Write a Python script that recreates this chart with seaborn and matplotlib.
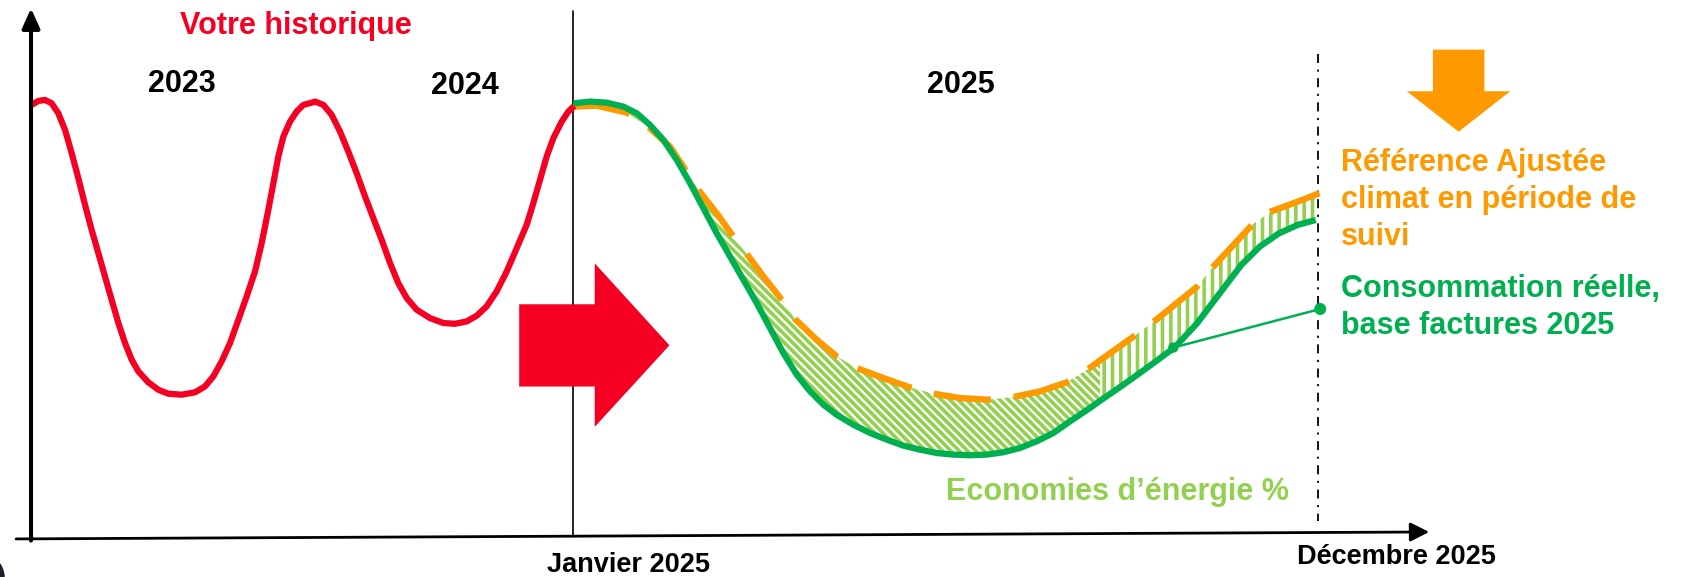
import matplotlib
matplotlib.use("Agg")
import matplotlib.pyplot as plt
from matplotlib.patches import Polygon, Ellipse
import seaborn as sns

# ---------------- data (schematic units; y grows downward) -------------
hist_x = [29.5, 35.7, 41.9, 48.1, 54.3, 60.6, 66.8, 73.0, 79.2, 85.4, 91.6, 97.8, 104.0, 110.3,
          116.5, 122.7, 128.9, 138.2, 147.5, 156.8, 169.3, 181.7, 191.0, 198.8, 206.5, 214.3,
          222.1, 229.8, 237.6, 243.8, 250.0, 254.7, 259.3, 264.0, 270.2, 276.4, 282.6, 290.4,
          293.5, 301.3, 309.0, 316.8, 324.5, 332.3, 340.1, 347.8, 355.6, 363.4, 371.1, 378.9,
          388.2, 400.6, 413.1, 423.9, 434.8, 444.1, 453.4, 462.7, 472.1, 481.4, 490.7, 496.9,
          503.1, 509.3, 515.5, 523.3, 529.5, 535.0]
hist_y = [97.8, 94.1, 93.2, 96.3, 105.6, 121.1, 142.9, 166.2, 191.0, 214.3, 236.0, 257.8, 279.5,
          301.2, 319.9, 335.4, 346.3, 356.5, 363.4, 367.1, 368.0, 365.8, 360.3, 350.9, 337.0,
          319.9, 298.1, 276.4, 253.1, 226.7, 195.7, 170.8, 146.0, 127.3, 113.4, 104.0, 97.8,
          95.7, 94.7, 97.8, 107.1, 122.7, 141.3, 161.5, 183.2, 203.4, 223.6, 245.3, 264.0, 277.9,
          288.8, 296.6, 301.2, 301.9, 299.7, 294.4, 285.7, 271.7, 253.1, 231.4, 209.6, 189.4,
          167.7, 146.0, 128.9, 113.4, 104.0, 98.8]

real_x = [534.2, 549.7, 565.2, 580.8, 593.2, 605.6, 618.0, 630.5, 642.9, 655.3, 667.7, 680.1,
          692.6, 705.0, 717.4, 729.8, 742.3, 754.7, 767.1, 779.5, 795.0, 810.6, 826.1, 841.6,
          857.2, 872.7, 888.2, 903.7, 919.3, 934.8, 950.3, 965.9, 981.4, 996.9, 1015.5, 1024.9,
          1045.7, 1066.5, 1094.2, 1115.0, 1135.7, 1156.5, 1173.9, 1191.2, 1208.5, 1225.8]
real_y = [96.3, 94.7, 95.7, 99.4, 105.6, 116.5, 130.4, 149.1, 170.8, 194.1, 217.4, 239.1,
          260.9, 282.6, 305.9, 329.2, 349.4, 364.9, 377.3, 386.7, 396.0, 403.7, 409.9, 415.5,
          419.3, 422.4, 423.9, 424.5, 423.9, 421.7, 417.7, 411.5, 403.7, 392.9, 380.4, 373.7,
          359.4, 344.5, 324.1, 301.8, 274.4, 247.0, 229.8, 217.8, 209.9, 205.1]

ref_x = [534.2, 555.9, 583.9, 605.6, 624.2, 638.2, 650.6, 667.7, 683.2, 695.7, 711.2, 728.3,
         740.7, 760.9, 779.5, 798.2, 823.0, 847.8, 869.6, 894.4, 920.8, 944.1, 969.0, 993.8,
         1014.0, 1024.9, 1056.1, 1076.9, 1115.0, 1128.8, 1166.9, 1184.2, 1212.0, 1229.3]
ref_y = [99.4, 98.5, 105.0, 119.6, 136.7, 157.8, 177.0, 198.8, 220.5, 236.7, 257.8, 279.5,
         297.5, 316.8, 332.3, 343.2, 352.5, 361.2, 367.1, 371.1, 372.7, 370.2, 364.9, 356.5,
         344.0, 336.0, 313.8, 298.4, 267.5, 250.4, 209.2, 197.2, 186.9, 180.1]

pointer_x = [1093.1, 1230.0]
pointer_y = [324.1, 288.1]

hatch_split = 1025

year_labels = ["2023", "2024", "2025"]
year_x = [169.3, 432.9, 895.2]
year_y = [86.0, 88.0, 86.3]

RED = "#F50022"
ORANGE = "#FF9900"
GREEN = "#00B050"
LIGHT_GREEN = "#92D050"

# ---------------- style ----------------
sns.set_theme(style="white")
plt.rcParams["font.family"] = ["Liberation Sans", "DejaVu Sans"]
plt.rcParams["font.weight"] = "bold"
plt.rcParams["hatch.linewidth"] = 2.6

fig = plt.figure(figsize=(16.83, 5.77), dpi=100)
ax = fig.add_axes([0, 0, 1, 1])
ax.set_xlim(0, 1568)
ax.set_ylim(538, 0)
ax.axis("off")

# ---------------- savings hatch ----------------
def band(cond):
    ox = [x for x in ref_x if cond(x)]
    oy = [y for x, y in zip(ref_x, ref_y) if cond(x)]
    gx = [x for x in real_x if cond(x)]
    gy = [y for x, y in zip(real_x, real_y) if cond(x)]
    return ox + gx[::-1], oy + gy[::-1]

bx, by = band(lambda x: x <= hatch_split)
ax.fill(bx, by, facecolor="none", edgecolor=LIGHT_GREEN, hatch="\\\\\\\\", linewidth=0, zorder=1)
bx, by = band(lambda x: x >= hatch_split - 0.5)
ax.fill(bx, by, facecolor="none", edgecolor=LIGHT_GREEN, hatch="||", linewidth=0, zorder=1)

# ---------------- curves ----------------
sns.lineplot(x=ref_x, y=ref_y, sort=False, estimator=None, ax=ax, color=ORANGE, linewidth=4.6,
             linestyle=(0, (9.0, 3.6)), dash_capstyle="butt", zorder=2)
sns.lineplot(x=hist_x, y=hist_y, sort=False, estimator=None, ax=ax, color=RED, linewidth=4.5,
             solid_joinstyle="round", solid_capstyle="butt", zorder=3)
sns.lineplot(x=real_x, y=real_y, sort=False, estimator=None, ax=ax, color=GREEN, linewidth=4.5,
             solid_joinstyle="round", solid_capstyle="butt", zorder=4)

# pointer to the green curve
sns.lineplot(x=pointer_x, y=pointer_y, sort=False, estimator=None, ax=ax, color=GREEN,
             linewidth=1.8, zorder=5)
sns.scatterplot(x=pointer_x, y=pointer_y, ax=ax, color=GREEN, size=[1, 2],
                sizes=(55, 75), legend=False, linewidth=0, zorder=6)

# ---------------- axes arrows and separators ----------------
ax.annotate("", xy=(28.9, 7.8), xytext=(28.9, 504),
            arrowprops=dict(arrowstyle="-|>,head_length=1.0,head_width=0.45", color="black",
                            lw=2.9, shrinkA=0, shrinkB=0), zorder=7)
ax.annotate("", xy=(1331.5, 496), xytext=(15, 502.5),
            arrowprops=dict(arrowstyle="-|>,head_length=0.95,head_width=0.48", color="black",
                            lw=2.0, shrinkA=0, shrinkB=0), zorder=7)
ax.plot([534.2, 534.2], [10.2, 500], color="black", lw=1.2, zorder=1.5)
ax.plot([1228, 1228], [50, 486], color="black", lw=1.3, linestyle=(0, (5, 3.6, 1.2, 3.6)), zorder=1.5)

# big arrows
ax.add_patch(Polygon([(483.7, 283.7), (554.1, 283.7), (554.1, 245.5), (623.7, 322),
                      (554.1, 398), (554.1, 360.4), (483.7, 360.4)],
                     closed=True, facecolor=RED, edgecolor="none", zorder=8))
ax.add_patch(Polygon([(1335, 46.3), (1383, 46.3), (1383, 85.1), (1407, 85.1), (1359, 122.8),
                      (1310.7, 85.1), (1335, 85.1)],
                     closed=True, facecolor=ORANGE, edgecolor="none", zorder=8))

# corner artefact
ax.add_patch(Ellipse((-18.6, 538.5), 46, 46, facecolor="#1d1d2b", edgecolor="none", zorder=8,
                     clip_on=False))

# ---------------- texts ----------------
ax.text(275.5, 31.4, "Votre historique", color=RED, fontsize=22, fontweight="bold",
        ha="center", va="baseline")
for lab, x, y in zip(year_labels, year_x, year_y):
    ax.text(x, y, lab, color="black", fontsize=22, fontweight="bold", ha="center", va="baseline")
ax.text(585.5, 533.5, "Janvier 2025", color="black", fontsize=19.5, fontweight="bold",
        ha="center", va="baseline")
ax.text(1300.6, 525.5, "Décembre 2025", color="black", fontsize=19.5, fontweight="bold",
        ha="center", va="baseline")

ref_lines = ["Référence Ajustée", "climat en période de", "suivi"]
for i, t in enumerate(ref_lines):
    ax.text(1249.4, 159.5 + 34.3 * i, t, color=ORANGE, fontsize=22, fontweight="bold",
            ha="left", va="baseline")
real_lines = ["Consommation réelle,", "base factures 2025"]
for i, t in enumerate(real_lines):
    ax.text(1249.4, 277.0 + 34.3 * i, t, color=GREEN, fontsize=22, fontweight="bold",
            ha="left", va="baseline")
ax.text(881.5, 466.0, "Economies d\u2019énergie %", color=LIGHT_GREEN, fontsize=22,
        fontweight="bold", ha="left", va="baseline")

fig.savefig("out.png", dpi=100)
